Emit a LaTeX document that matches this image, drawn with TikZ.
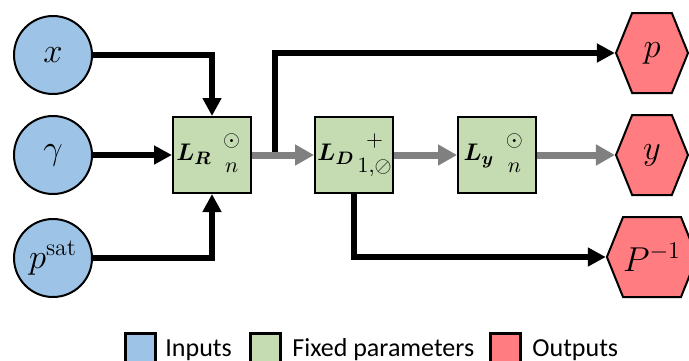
\documentclass[tikz,border=0pt]{standalone}
\usepackage{amsmath,bm}
\usepackage{fontspec}
\setsansfont{Carlito}
\usetikzlibrary{shapes.geometric, shapes.symbols, arrows.meta, positioning}
\definecolor{inBlue}{RGB}{157,195,230}
\definecolor{fixGreen}{RGB}{197,219,178}
\definecolor{outRed}{RGB}{255,124,128}
\definecolor{flowGray}{RGB}{128,128,128}
\newcommand{\opstack}[2]{\makebox[16pt]{\fontsize{11}{12}\selectfont\begin{tabular}{@{}c@{}}$#1$\\[1pt]$#2$\end{tabular}}}
\tikzset{
    % Shapes
    inCirc/.style={circle, draw=black, line width=1pt, fill=inBlue,
                   minimum size=39pt, inner sep=0pt, font=\fontsize{17}{20}\selectfont},
    fixBox/.style={rectangle, draw=black, line width=1pt, fill=fixGreen,
                   minimum width=39pt, minimum height=38pt, inner sep=0pt, font=\fontsize{12.5}{15}\selectfont},
    outHex/.style={signal, signal to=west and east, signal pointer angle=136,
                   draw=black, line width=1pt, fill=outRed, minimum width=36pt, minimum height=40pt,
                   inner sep=0pt, font=\fontsize{17}{20}\selectfont},
    legSq/.style={rectangle, draw=black, line width=1.5pt, minimum size=15pt, inner sep=0pt},
    legTxt/.style={inner sep=0pt, anchor=base west, font=\sffamily\fontsize{13}{15}\selectfont},
    % Flow
    flowBlack/.style={-{Triangle[length=9pt,width=9pt]}, line width=3pt, black},
    flowGrey/.style={-{Triangle[length=9.5pt,width=10pt]}, line width=3.5pt, flowGray}
}
\begin{document}
\begin{tikzpicture}[x=0.5pt, y=-0.5pt]
\useasboundingbox (0,0) rectangle (689,360);

% inputs
\node[inCirc] (x) at (53,55) {$x$};
\node[inCirc] (gam) at (53,155) {$\gamma$};
\node[inCirc] (psat) at (53,258) {$p^{\mathrm{sat}}$};

% fixed parameters
\node[fixBox] (LR) at (212,155) {$\boldsymbol{L_R}$\,\opstack{\odot}{n}};
\node[fixBox] (LD) at (354,155) {$\boldsymbol{L_D}$\,\opstack{+}{1{,}\oslash}};
\node[fixBox] (Ly) at (497,155) {$\boldsymbol{L_y}$\,\opstack{\odot}{n}};

% outputs
\node[outHex] (p) at (652,53) {$p$};
\node[outHex] (y) at (652,155) {$y$};
\node[outHex] (pinv) at (652,257) {$P^{-1}$};

\coordinate (br) at (275,155);

\draw[flowBlack] (x) -| (LR);
\draw[flowBlack] (gam) -- (LR);
\draw[flowBlack] (psat) -| (LR);
\draw[flowBlack] (br) |- (p);
\draw[flowBlack] (LD) |- (pinv);
\draw[flowGrey] (LR) -- (LD);
\draw[flowGrey] (LD) -- (Ly);
\draw[flowGrey] (Ly) -- (y);

% legend
\node[legSq, fill=inBlue] (kIn) at (140,348) {};
\node[legTxt] (tIn) at (165,356) {Inputs};
\node[legSq, fill=fixGreen] (kFix) at (265.5,348) {};
\node[legTxt] (tFix) at (292,356) {Fixed parameters};
\node[legSq, fill=outRed] (kOut) at (505,348) {};
\node[legTxt] (tOut) at (532,356) {Outputs};

\end{tikzpicture}
\end{document}
